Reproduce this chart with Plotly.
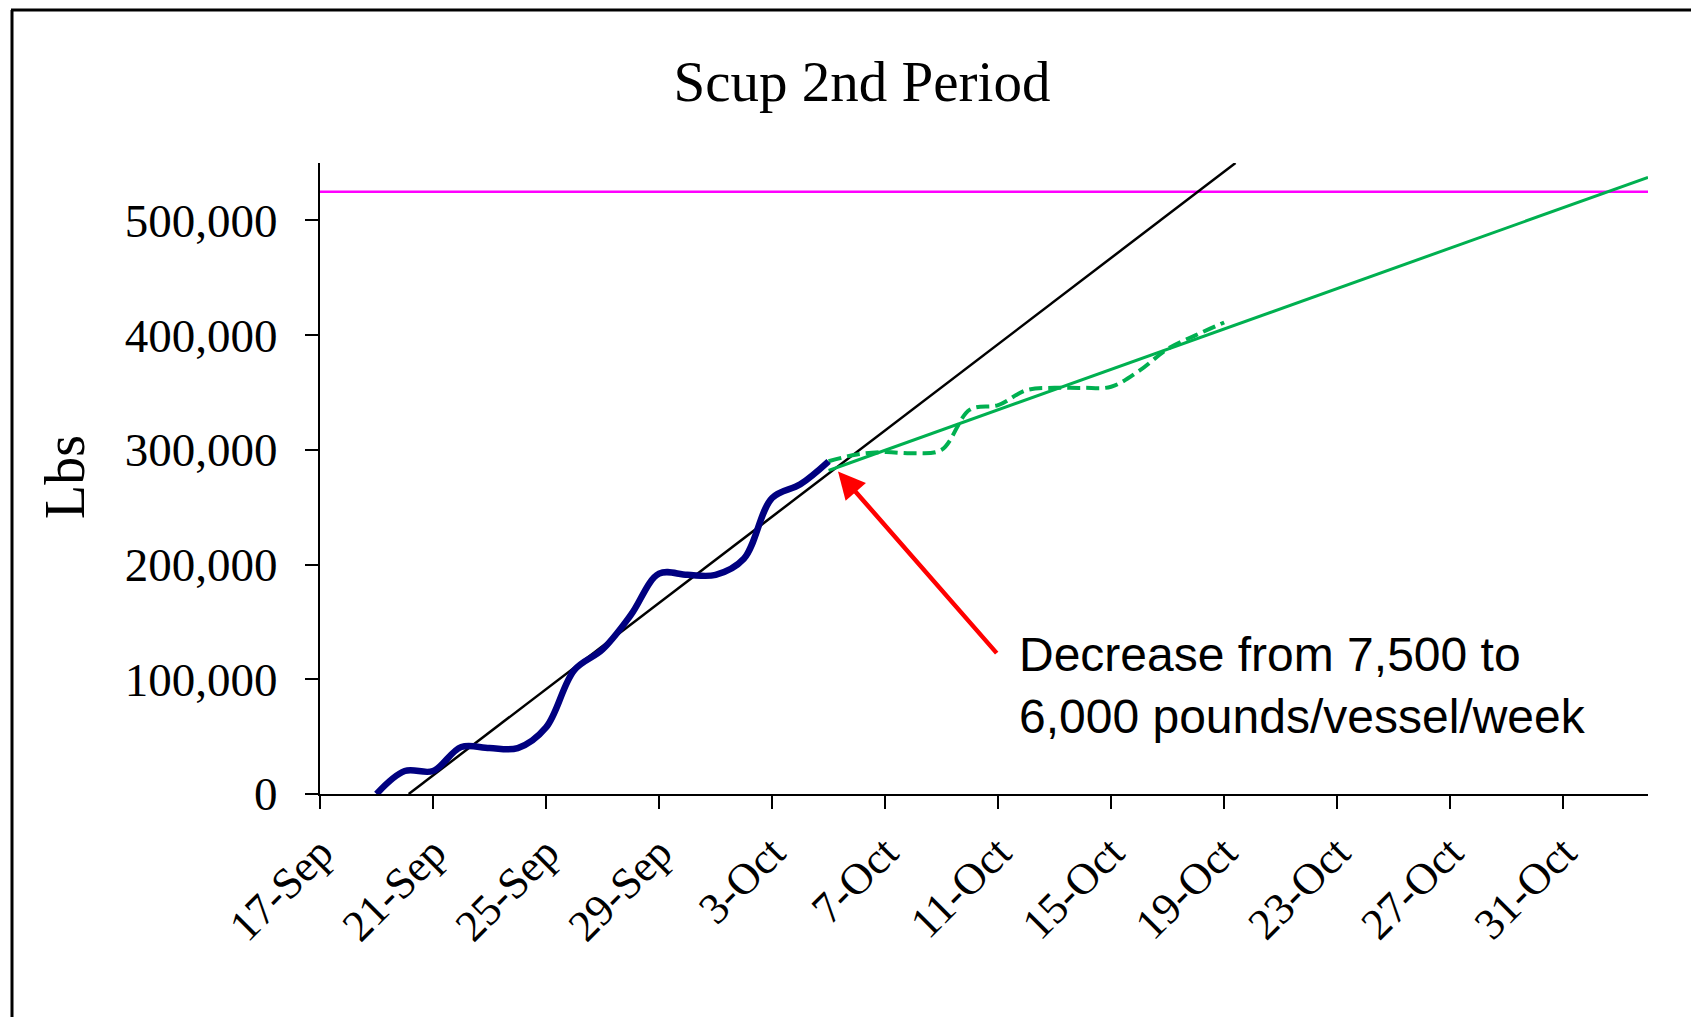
import plotly.graph_objects as go

# ---- data ----
blue_dates = ["2009-09-19", "2009-09-20", "2009-09-21", "2009-09-22", "2009-09-23",
              "2009-09-24", "2009-09-25", "2009-09-26", "2009-09-27", "2009-09-28",
              "2009-09-29", "2009-09-30", "2009-10-01", "2009-10-02", "2009-10-03",
              "2009-10-04", "2009-10-05"]
blue_lbs = [0, 20000, 20000, 41000, 40000, 40000, 58000, 108000, 126000, 156000,
            192000, 191000, 191000, 205000, 258000, 270000, 290000]

green_dates = ["2009-10-05", "2009-10-06", "2009-10-07", "2009-10-08", "2009-10-09",
               "2009-10-10", "2009-10-11", "2009-10-12", "2009-10-13", "2009-10-14",
               "2009-10-15", "2009-10-16", "2009-10-17", "2009-10-18", "2009-10-19"]
green_lbs = [290000, 296000, 298000, 297000, 300000, 335000, 339000, 352000, 354000,
             354000, 355000, 369000, 388000, 400000, 411000]

trend1_dates = ["2009-09-20 03:20", "2009-10-19 09:36"]
trend1_lbs = [0, 550000]

trend2_dates = ["2009-10-05 00:00", "2009-11-03 00:00"]
trend2_lbs = [282000, 537500]

quota_dates = ["2009-09-17", "2009-11-03"]
quota_lbs = [525000, 525000]

y_ticks = [0, 100000, 200000, 300000, 400000, 500000]

title_text = "Scup 2nd Period"
y_title = "Lbs"
note_text = "Decrease from 7,500 to<br>6,000 pounds/vessel/week"

# ---- figure (page has an 8px body margin, so figure coords = page coords - 8) ----
OFF = 8
W, H = 1699 - OFF, 1017 - OFF
ML = 320 - OFF
MT = 163 - OFF
MR = W - (1648 - OFF)
MB = H - (794 - OFF)
PW = W - ML - MR
PH = H - MT - MB

def px_x(px):  # page px -> paper fraction
    return (px - OFF - ML) / PW

def px_y(py):
    return (H - MB - (py - OFF)) / PH

fig = go.Figure()

fig.add_trace(go.Scatter(x=quota_dates, y=quota_lbs, mode="lines",
                         line=dict(color="#FF00FF", width=2.5), showlegend=False))
fig.add_trace(go.Scatter(x=trend1_dates, y=trend1_lbs, mode="lines",
                         line=dict(color="#000000", width=2.5), showlegend=False))
fig.add_trace(go.Scatter(x=trend2_dates, y=trend2_lbs, mode="lines",
                         line=dict(color="#00B050", width=3), showlegend=False))
fig.add_trace(go.Scatter(x=green_dates, y=green_lbs, mode="lines",
                         line=dict(color="#00B050", width=4, dash="13px,6px",
                                   shape="spline", smoothing=1.0),
                         showlegend=False))
fig.add_trace(go.Scatter(x=blue_dates, y=blue_lbs, mode="lines",
                         line=dict(color="#000080", width=6.5, shape="spline", smoothing=1.0),
                         showlegend=False))

serif = "Liberation Serif, Times New Roman, serif"

fig.update_layout(
    width=W, height=H, autosize=False,
    margin=dict(l=ML, r=MR, t=MT, b=MB, pad=0),
    paper_bgcolor="white", plot_bgcolor="white",
    showlegend=False,
    title=dict(text=title_text, xref="container", yref="container",
               x=(862 - OFF) / W, y=1 - (81 - OFF) / H, xanchor="center", yanchor="middle",
               font=dict(family=serif, size=57, color="black")),
    xaxis=dict(type="date", range=["2009-09-17", "2009-11-03"],
               tick0="2009-09-17", dtick=4 * 86400000, tickformat="%-d-%b",
               tickangle=-45, showgrid=False, zeroline=False,
               showline=True, linecolor="black", linewidth=2,
               ticks="outside", ticklen=13, tickwidth=1.5, tickcolor="black",
               ticklabelstandoff=0,
               tickfont=dict(family=serif, size=44, color="black")),
    yaxis=dict(range=[0, 550000], tickvals=y_ticks, tickformat=",d",
               showgrid=False, zeroline=False,
               showline=True, linecolor="black", linewidth=2,
               ticks="outside", ticklen=13, tickwidth=1.5, tickcolor="black",
               ticklabelstandoff=18,
               tickfont=dict(family=serif, size=47, color="black")),
)

# y-axis title
fig.add_annotation(text=y_title, xref="paper", yref="paper",
                   x=px_x(65), y=px_y(477), textangle=-90, showarrow=False,
                   xanchor="center", yanchor="middle",
                   font=dict(family=serif, size=56, color="black"))

# arrow
fig.add_annotation(text="", x="2009-10-05 08:00", y=281000, xref="x", yref="y",
                   showarrow=True, arrowhead=2, arrowsize=1.2, arrowwidth=4.5,
                   arrowcolor="#FF0000", ax=160, ay=183, standoff=0)

# note text
fig.add_annotation(text=note_text, xref="paper", yref="paper",
                   x=px_x(1017), y=px_y(685), showarrow=False,
                   xanchor="left", yanchor="middle", align="left",
                   font=dict(family="Liberation Sans, Arial, sans-serif", size=48, color="black"))

# frame
fig.add_shape(type="line", xref="paper", yref="paper",
              x0=px_x(11), x1=px_x(1699), y0=px_y(10), y1=px_y(10),
              line=dict(color="black", width=3))
fig.add_shape(type="line", xref="paper", yref="paper",
              x0=px_x(12), x1=px_x(12), y0=px_y(10), y1=px_y(1017),
              line=dict(color="black", width=3))

fig.write_html("out.html")
